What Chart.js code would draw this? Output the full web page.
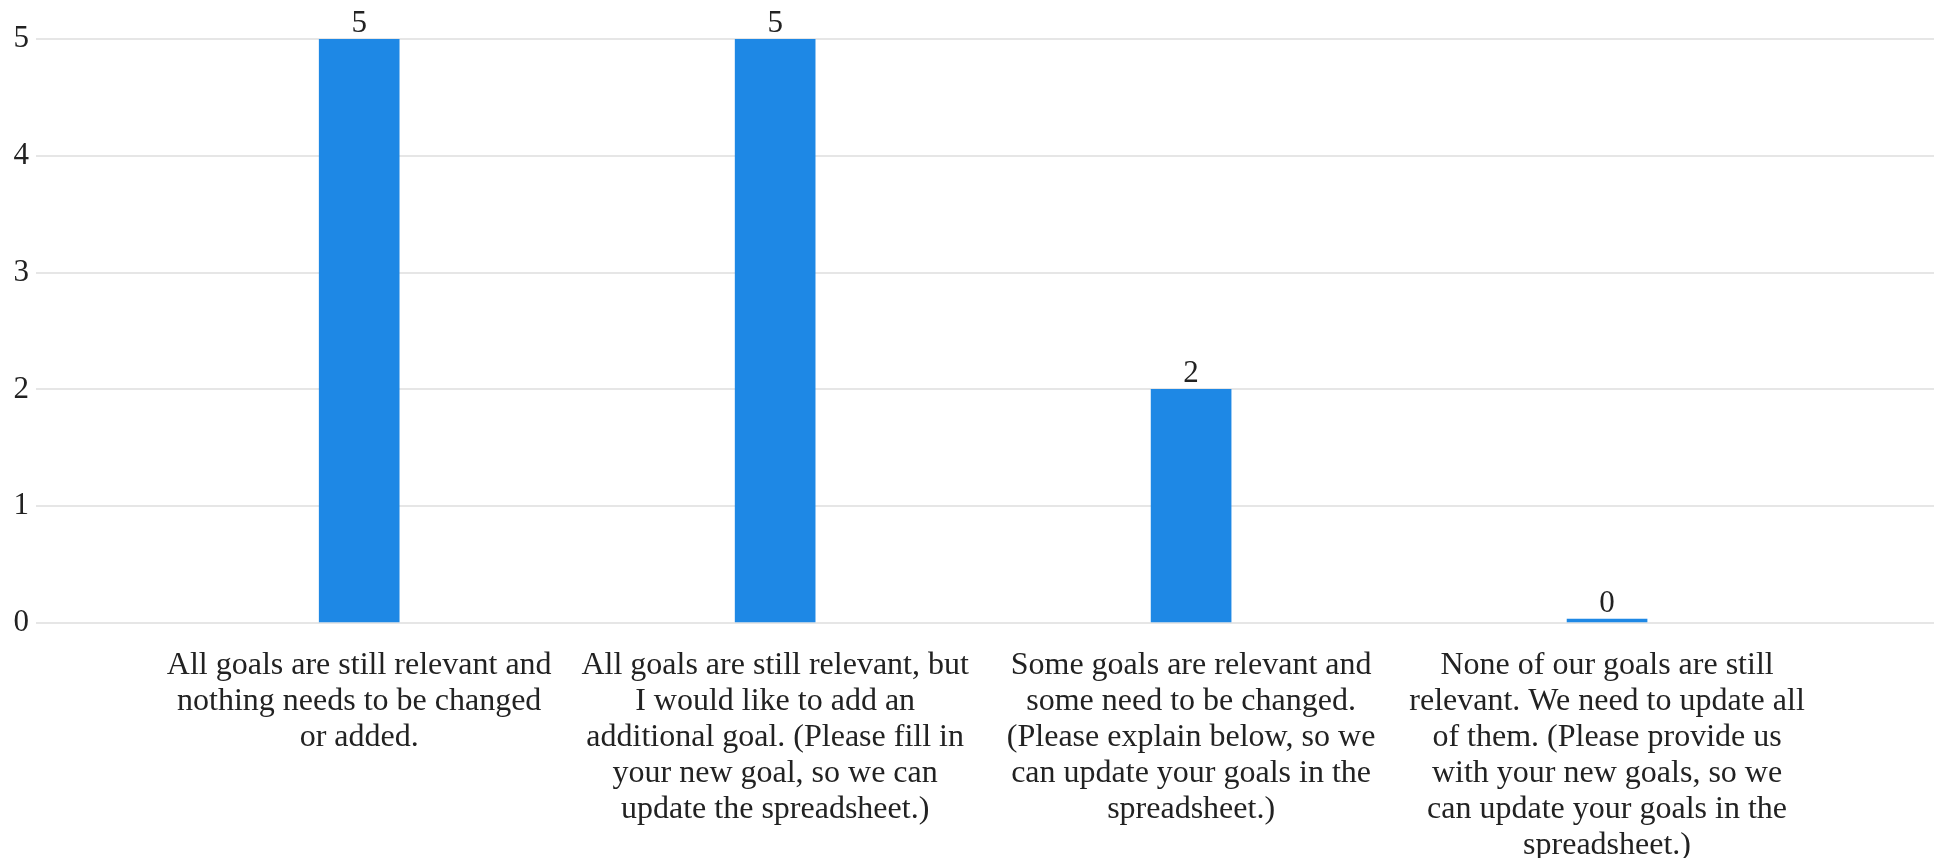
<!DOCTYPE html>
<html>
<head>
<meta charset="utf-8">
<script src="https://cdn.jsdelivr.net/npm/chart.js@4"></script>
<style>
  html, body { margin: 0; padding: 0; background: #ffffff; }
  #wrap { width: 1934px; height: 858px; }
</style>
</head>
<body>
<div id="wrap"><canvas id="goalsChart" width="1934" height="858"></canvas></div>
<script>
// answers to "are your goals still relevant?"
const categories = [
    ['All goals are still relevant and', 'nothing needs to be changed', 'or added.'],
    ['All goals are still relevant, but', 'I would like to add an', 'additional goal. (Please fill in', 'your new goal, so we can', 'update the spreadsheet.)'],
    ['Some goals are relevant and', 'some need to be changed.', '(Please explain below, so we', 'can update your goals in the', 'spreadsheet.)'],
    ['None of our goals are still', 'relevant. We need to update all', 'of them. (Please provide us', 'with your new goals, so we', 'can update your goals in the', 'spreadsheet.)']
];
const counts = [5, 5, 2, 0];
const yTicks = [0, 1, 2, 3, 4, 5];

const barColor = '#1e88e5';
const textColor = '#222222';
const gridColor = '#e6e6e6';
const fontFamily = "'Liberation Serif', 'Times New Roman', serif";

// value labels above each bar
const valueLabels = {
    id: 'valueLabels',
    afterDatasetsDraw(chart) {
        const { ctx } = chart;
        const meta = chart.getDatasetMeta(0);
        ctx.save();
        ctx.fillStyle = textColor;
        ctx.font = `31px ${fontFamily}`;
        ctx.textAlign = 'center';
        ctx.textBaseline = 'alphabetic';
        meta.data.forEach((bar, i) => {
            ctx.fillText(String(counts[i]), bar.x, bar.y - 7);
        });
        ctx.restore();
    }
};

new Chart(document.getElementById('goalsChart').getContext('2d'), {
    type: 'bar',
    data: {
        datasets: [{
            data: counts.map((v, i) => ({ x: i, y: v })),
            backgroundColor: barColor,
            borderWidth: 0,
            barThickness: 80,
            minBarLength: 4
        }]
    },
    options: {
        responsive: false,
        animation: false,
        layout: { padding: { top: 39, left: 0, right: 0, bottom: 0 } },
        plugins: { legend: { display: false }, tooltip: { enabled: false } },
        scales: {
            x: {
                type: 'linear',
                offset: false,
                min: -0.777,
                max: 3.786,
                grid: { display: false },
                border: { display: false },
                afterBuildTicks: scale => { scale.ticks = categories.map((_, i) => ({ value: i })); },
                afterFit: scale => { scale.height = 235; },
                ticks: {
                    autoSkip: false,
                    maxRotation: 0,
                    padding: 17,
                    color: textColor,
                    font: { family: fontFamily, size: 32, lineHeight: 1.12 },
                    callback: v => categories[v] || ''
                }
            },
            y: {
                min: 0,
                max: 5,
                afterBuildTicks: scale => { scale.ticks = yTicks.map(v => ({ value: v })); },
                afterFit: scale => { scale.width = 36; },
                grid: { color: gridColor, lineWidth: 2, drawTicks: false },
                border: { display: false },
                ticks: {
                    padding: 7,
                    color: textColor,
                    font: { family: fontFamily, size: 31 }
                }
            }
        }
    },
    plugins: [valueLabels]
});
</script>
</body>
</html>
